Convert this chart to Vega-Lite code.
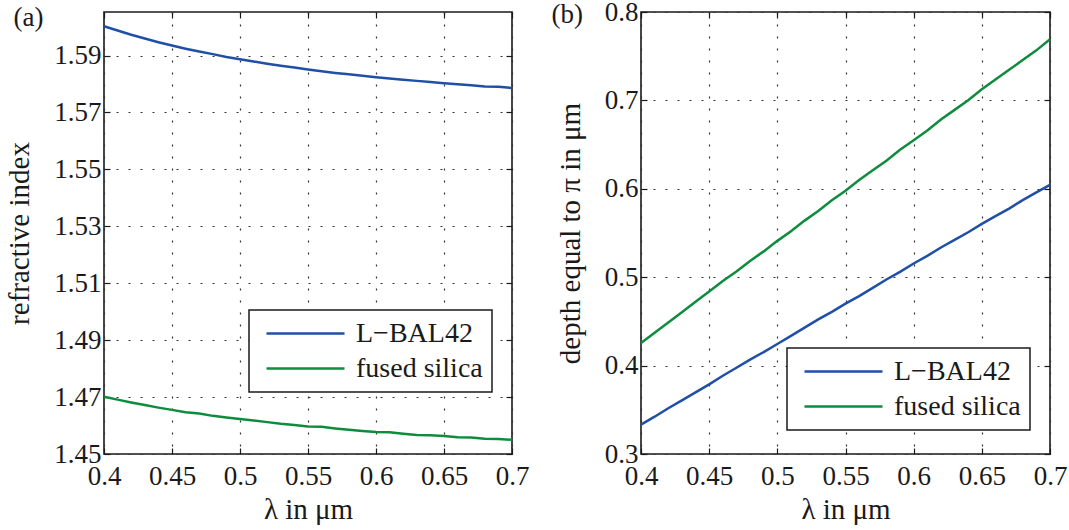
{
  "$schema": "https://vega.github.io/schema/vega-lite/v6.json",
  "background": "white",
  "padding": {"left": 4, "top": -3, "right": 0, "bottom": 0},
  "spacing": 20,
  "config": {
    "font": "Liberation Serif",
    "view": {"stroke": "#1a1a1a", "strokeWidth": 1.6},
    "axis": {
      "labelFont": "Liberation Serif", "titleFont": "Liberation Serif",
      "labelFontSize": 27, "titleFontSize": 29, "titleFontWeight": "normal",
      "labelColor": "#1a1a1a", "titleColor": "#1a1a1a", "labelFlush": false, "labelOverlap": false,
      "domain": false, "tickSize": -6, "tickColor": "#1a1a1a", "tickWidth": 1.2,
      "gridColor": "#333", "gridDash": [2, 10], "gridWidth": 1.2, "gridOpacity": 1
    },
    "axisX": {"labelPadding": 15, "titlePadding": 6},
    "axisY": {"labelPadding": 9, "titlePadding": 19},
    "legend": {"strokeWidth": 1.5}
  },
  "data": {"values": [
    {"lambda": 0.40, "material": "L−BAL42", "n": 1.6003, "depth": 0.3333},
    {"lambda": 0.41, "material": "L−BAL42", "n": 1.5988, "depth": 0.3422},
    {"lambda": 0.42, "material": "L−BAL42", "n": 1.5973, "depth": 0.3518},
    {"lambda": 0.43, "material": "L−BAL42", "n": 1.5960, "depth": 0.3607},
    {"lambda": 0.44, "material": "L−BAL42", "n": 1.5947, "depth": 0.3697},
    {"lambda": 0.45, "material": "L−BAL42", "n": 1.5935, "depth": 0.3788},
    {"lambda": 0.46, "material": "L−BAL42", "n": 1.5924, "depth": 0.3885},
    {"lambda": 0.47, "material": "L−BAL42", "n": 1.5914, "depth": 0.3976},
    {"lambda": 0.48, "material": "L−BAL42", "n": 1.5905, "depth": 0.4068},
    {"lambda": 0.49, "material": "L−BAL42", "n": 1.5895, "depth": 0.4153},
    {"lambda": 0.50, "material": "L−BAL42", "n": 1.5887, "depth": 0.4244},
    {"lambda": 0.51, "material": "L−BAL42", "n": 1.5879, "depth": 0.4337},
    {"lambda": 0.52, "material": "L−BAL42", "n": 1.5871, "depth": 0.4429},
    {"lambda": 0.53, "material": "L−BAL42", "n": 1.5864, "depth": 0.4522},
    {"lambda": 0.54, "material": "L−BAL42", "n": 1.5858, "depth": 0.4608},
    {"lambda": 0.55, "material": "L−BAL42", "n": 1.5851, "depth": 0.4701},
    {"lambda": 0.56, "material": "L−BAL42", "n": 1.5845, "depth": 0.4786},
    {"lambda": 0.57, "material": "L−BAL42", "n": 1.5839, "depth": 0.4880},
    {"lambda": 0.58, "material": "L−BAL42", "n": 1.5834, "depth": 0.4974},
    {"lambda": 0.59, "material": "L−BAL42", "n": 1.5829, "depth": 0.5060},
    {"lambda": 0.60, "material": "L−BAL42", "n": 1.5824, "depth": 0.5155},
    {"lambda": 0.61, "material": "L−BAL42", "n": 1.5819, "depth": 0.5241},
    {"lambda": 0.62, "material": "L−BAL42", "n": 1.5815, "depth": 0.5336},
    {"lambda": 0.63, "material": "L−BAL42", "n": 1.5811, "depth": 0.5422},
    {"lambda": 0.64, "material": "L−BAL42", "n": 1.5807, "depth": 0.5508},
    {"lambda": 0.65, "material": "L−BAL42", "n": 1.5803, "depth": 0.5603},
    {"lambda": 0.66, "material": "L−BAL42", "n": 1.5799, "depth": 0.5690},
    {"lambda": 0.67, "material": "L−BAL42", "n": 1.5796, "depth": 0.5776},
    {"lambda": 0.68, "material": "L−BAL42", "n": 1.5791, "depth": 0.5872},
    {"lambda": 0.69, "material": "L−BAL42", "n": 1.5790, "depth": 0.5959},
    {"lambda": 0.70, "material": "L−BAL42", "n": 1.5786, "depth": 0.6045},
    {"lambda": 0.40, "material": "fused silica", "n": 1.4701, "depth": 0.4255},
    {"lambda": 0.41, "material": "fused silica", "n": 1.4691, "depth": 0.4371},
    {"lambda": 0.42, "material": "fused silica", "n": 1.4681, "depth": 0.4487},
    {"lambda": 0.43, "material": "fused silica", "n": 1.4672, "depth": 0.4604},
    {"lambda": 0.44, "material": "fused silica", "n": 1.4663, "depth": 0.4721},
    {"lambda": 0.45, "material": "fused silica", "n": 1.4655, "depth": 0.4839},
    {"lambda": 0.46, "material": "fused silica", "n": 1.4647, "depth": 0.4957},
    {"lambda": 0.47, "material": "fused silica", "n": 1.4642, "depth": 0.5065},
    {"lambda": 0.48, "material": "fused silica", "n": 1.4634, "depth": 0.5184},
    {"lambda": 0.49, "material": "fused silica", "n": 1.4628, "depth": 0.5292},
    {"lambda": 0.50, "material": "fused silica", "n": 1.4623, "depth": 0.5411},
    {"lambda": 0.51, "material": "fused silica", "n": 1.4618, "depth": 0.5519},
    {"lambda": 0.52, "material": "fused silica", "n": 1.4612, "depth": 0.5640},
    {"lambda": 0.53, "material": "fused silica", "n": 1.4606, "depth": 0.5748},
    {"lambda": 0.54, "material": "fused silica", "n": 1.4602, "depth": 0.5870},
    {"lambda": 0.55, "material": "fused silica", "n": 1.4597, "depth": 0.5978},
    {"lambda": 0.56, "material": "fused silica", "n": 1.4596, "depth": 0.6100},
    {"lambda": 0.57, "material": "fused silica", "n": 1.4590, "depth": 0.6209},
    {"lambda": 0.58, "material": "fused silica", "n": 1.4585, "depth": 0.6318},
    {"lambda": 0.59, "material": "fused silica", "n": 1.4581, "depth": 0.6441},
    {"lambda": 0.60, "material": "fused silica", "n": 1.4577, "depth": 0.6550},
    {"lambda": 0.61, "material": "fused silica", "n": 1.4576, "depth": 0.6659},
    {"lambda": 0.62, "material": "fused silica", "n": 1.4571, "depth": 0.6783},
    {"lambda": 0.63, "material": "fused silica", "n": 1.4567, "depth": 0.6893},
    {"lambda": 0.64, "material": "fused silica", "n": 1.4566, "depth": 0.7002},
    {"lambda": 0.65, "material": "fused silica", "n": 1.4563, "depth": 0.7127},
    {"lambda": 0.66, "material": "fused silica", "n": 1.4559, "depth": 0.7237},
    {"lambda": 0.67, "material": "fused silica", "n": 1.4558, "depth": 0.7346},
    {"lambda": 0.68, "material": "fused silica", "n": 1.4554, "depth": 0.7456},
    {"lambda": 0.69, "material": "fused silica", "n": 1.4553, "depth": 0.7566},
    {"lambda": 0.70, "material": "fused silica", "n": 1.4550, "depth": 0.7692}
  ]},
  "resolve": {"legend": {"color": "independent"}},
  "hconcat": [
    {
      "width": 408, "height": 442,
      "layer": [
        {
          "mark": {"type": "line", "strokeWidth": 2.5},
          "encoding": {
            "x": {"field": "lambda", "type": "quantitative", "scale": {"domain": [0.4, 0.7], "nice": false, "zero": false},
                  "axis": {"title": "λ in μm", "values": [0.4, 0.45, 0.5, 0.55, 0.6, 0.65, 0.7], "format": "~g", "grid": true}},
            "y": {"field": "n", "type": "quantitative", "scale": {"domain": [1.45, 1.6053], "nice": false, "zero": false},
                  "axis": {"title": "refractive index", "values": [1.45, 1.47, 1.49, 1.51, 1.53, 1.55, 1.57, 1.59], "format": ".2f", "grid": true}},
            "color": {"field": "material", "type": "nominal",
                      "scale": {"domain": ["L−BAL42", "fused silica"], "range": ["#1f4fa6", "#0e8c3e"]},
                      "legend": {"orient": "none", "legendX": 145, "legendY": 298, "title": null,
                                 "symbolType": "M-3,0H3", "symbolSize": 676, "symbolStrokeWidth": 2.5,
                                 "labelFontSize": 28, "labelFont": "Liberation Serif", "labelColor": "#1a1a1a",
                                 "padding": 9, "rowPadding": 6, "symbolOffset": 33, "labelOffset": 36,
                                 "strokeColor": "#1a1a1a", "fillColor": "white"}}
          }
        },
        {
          "mark": {"type": "line", "opacity": 0},
          "encoding": {
            "x": {"field": "lambda", "type": "quantitative",
                  "axis": {"orient": "top", "labels": false, "grid": false, "values": [0.4, 0.45, 0.5, 0.55, 0.6, 0.65, 0.7],
                           "title": "(a)", "titleX": -91, "titleY": 13, "titleAlign": "left", "titleBaseline": "alphabetic", "titleAngle": 0, "titleFontSize": 27}},
            "y": {"field": "n", "type": "quantitative", "axis": {"orient": "right", "labels": false, "title": null, "grid": false, "values": [1.45, 1.47, 1.49, 1.51, 1.53, 1.55, 1.57, 1.59]}}
          }
        }
      ],
      "resolve": {"axis": {"x": "independent", "y": "independent"}}
    },
    {
      "width": 409, "height": 442,
      "layer": [
        {
          "mark": {"type": "line", "strokeWidth": 2.5},
          "encoding": {
            "x": {"field": "lambda", "type": "quantitative", "scale": {"domain": [0.4, 0.7], "nice": false, "zero": false},
                  "axis": {"title": "λ in μm", "values": [0.4, 0.45, 0.5, 0.55, 0.6, 0.65, 0.7], "format": "~g", "grid": true}},
            "y": {"field": "depth", "type": "quantitative", "scale": {"domain": [0.3, 0.8], "nice": false, "zero": false},
                  "axis": {"title": "depth equal to π in μm", "values": [0.3, 0.4, 0.5, 0.6, 0.7, 0.8], "format": "~g", "grid": true}},
            "color": {"field": "material", "type": "nominal",
                      "scale": {"domain": ["L−BAL42", "fused silica"], "range": ["#1f4fa6", "#0e8c3e"]},
                      "legend": {"orient": "none", "legendX": 146, "legendY": 336, "title": null,
                                 "symbolType": "M-3,0H3", "symbolSize": 676, "symbolStrokeWidth": 2.5,
                                 "labelFontSize": 28, "labelFont": "Liberation Serif", "labelColor": "#1a1a1a",
                                 "padding": 9, "rowPadding": 6, "symbolOffset": 33, "labelOffset": 36,
                                 "strokeColor": "#1a1a1a", "fillColor": "white"}}
          }
        },
        {
          "mark": {"type": "line", "opacity": 0},
          "encoding": {
            "x": {"field": "lambda", "type": "quantitative",
                  "axis": {"orient": "top", "labels": false, "grid": false, "values": [0.4, 0.45, 0.5, 0.55, 0.6, 0.65, 0.7],
                           "title": "(b)", "titleX": -90, "titleY": 10, "titleAlign": "left", "titleBaseline": "alphabetic", "titleAngle": 0, "titleFontSize": 27}},
            "y": {"field": "depth", "type": "quantitative", "axis": {"orient": "right", "labels": false, "title": null, "grid": false, "values": [0.3, 0.4, 0.5, 0.6, 0.7, 0.8]}}
          }
        }
      ],
      "resolve": {"axis": {"x": "independent", "y": "independent"}}
    }
  ]
}
